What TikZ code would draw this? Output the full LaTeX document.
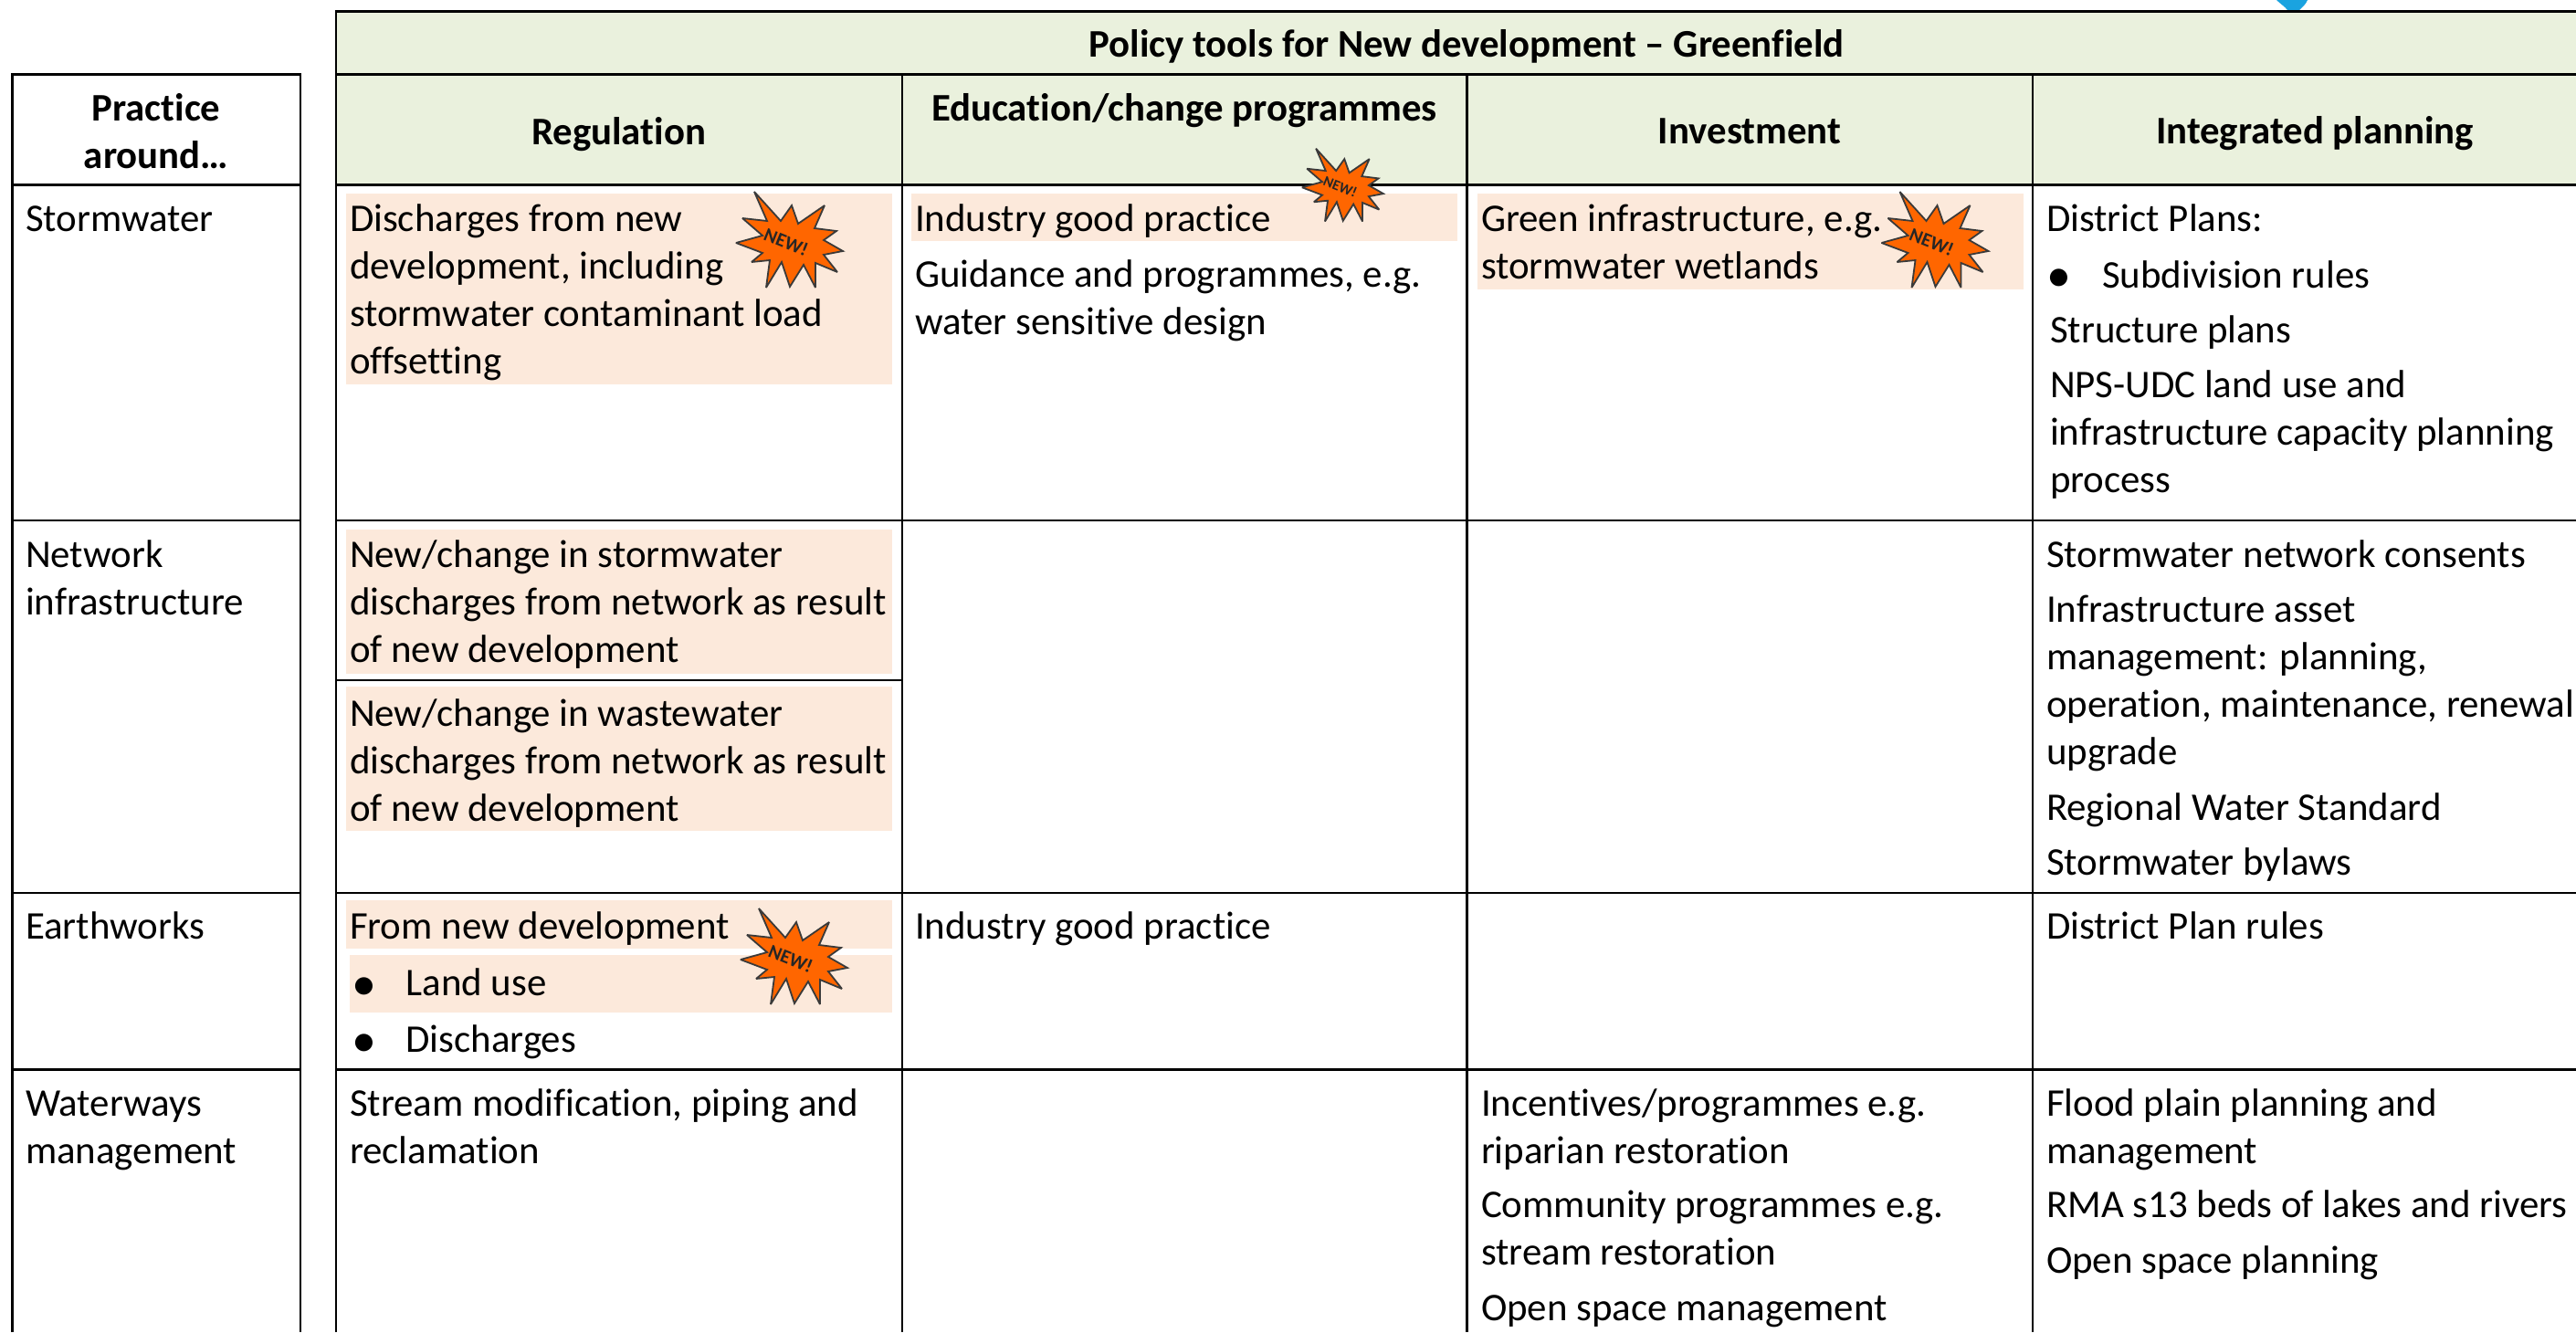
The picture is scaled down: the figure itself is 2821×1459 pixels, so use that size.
\documentclass[tikz,border=0pt]{standalone}
\usepackage{fontspec}
\setmainfont[Ligatures=NoCommon]{Carlito}
\definecolor{headfill}{HTML}{EAF1DD}
\definecolor{newfill}{HTML}{FCE9DB}
\definecolor{burstfill}{HTML}{FF6600}
\definecolor{burstline}{HTML}{3A3A3A}
\definecolor{blobblue}{HTML}{1AA3E0}
\tikzset{
  x=1pt,y=-1pt,
  rule/.style={line width=2.4pt,black},
  txt/.style={anchor=north west,inner sep=0pt,outer sep=0pt,align=left,yshift=36.4pt,
    font=\fontsize{42.9}{52}\selectfont,text=black},
  headtxt/.style={anchor=base,inner sep=0pt,outer sep=0pt,align=center,
    font=\fontsize{42.8}{52}\selectfont\bfseries,text=black},
  bull/.style={anchor=base,inner sep=0pt,outer sep=0pt,font=\fontsize{54}{52}\selectfont,text=black},
  burstshape/.style={fill=burstfill,draw=burstline,line width=1.8pt,line join=miter,miter limit=3},
  burstlab/.style={inner sep=0pt,transform shape,rotate=-22,font=\fontsize{21}{21}\selectfont\bfseries,text=black!85},
  pics/newburst/.style={code={
    \draw[burstshape] (-38,-53)--(-9,-21)--(3,-38)--(10,-18)--(39,-38)--(28,-13)--(52,-10)--(38,0)--(59,12)--(38,16)--(53,35)--(29,25)--(29,52)--(16,27)--(1,51)--(-8,24)--(-25,52)--(-21,22)--(-41,24)--(-29,14)--(-58,3)--(-29,-5)--(-51,-24)--(-24,-21)--cycle;
    \node[burstlab] (-lab) at (-3,2) {NEW!};
  }}
}
\begin{document}
\begin{tikzpicture}
\clip (0,0) rectangle (2821,1459);
\fill[white] (0,0) rectangle (2821,1459);
% blue fragment at the top edge
\fill[blobblue] (2493,0) -- (2527,0) .. controls (2525,5) and (2521,8) .. (2518,11) -- (2505,11) .. controls (2502,7) and (2497,4) .. (2493,0) -- cycle;
% header fills
\fill[headfill] (368,12.5) rectangle (2821,202.5);
% highlighted passages
\fill[newfill] (379,212) rectangle (977,421);
\fill[newfill] (379,580) rectangle (977,738);
\fill[newfill] (379,752) rectangle (977,910);
\fill[newfill] (379,986) rectangle (977,1039);
\fill[newfill] (383,1046) rectangle (977,1109);
\fill[newfill] (998,212) rectangle (1596,264);
\fill[newfill] (1618,212) rectangle (2216,317);
% left table
\draw[rule] (13.5,1459) -- (13.5,81.5) -- (329,81.5) -- (329,1459);
\draw[rule] (13.5,202.5) -- (329,202.5);
\draw[rule] (13.5,570) -- (329,570);
\draw[rule] (13.5,978) -- (329,978);
\draw[rule] (13.5,1171.5) -- (329,1171.5);
% main table
\draw[rule] (368,1459) -- (368,12.5) -- (2821,12.5);
\draw[rule] (368,81.5) -- (2821,81.5);
\draw[rule] (368,202.5) -- (2821,202.5);
\draw[rule] (368,570) -- (2821,570);
\draw[rule] (368,745) -- (988,745);
\draw[rule] (368,978) -- (2821,978);
\draw[rule] (368,1171.5) -- (2821,1171.5);
\draw[rule] (988,81.5) -- (988,1459);
\draw[rule] (1606.5,81.5) -- (1606.5,1459);
\draw[rule] (2226,81.5) -- (2226,1459);
% headers
\node[headtxt] (hpractice) at (171,132.5) {Practice};
\node[headtxt] (hpractice2) at (171,184) {around…};
\node[headtxt] (htitle) at (1606,62.5) {Policy tools for New development – Greenfield};
\node[headtxt] (hreg) at (677.5,158.5) {Regulation};
\node[headtxt] (hedu) at (1297,132) {Education/change programmes};
\node[headtxt] (hinv) at (1916,157.5) {Investment};
\node[headtxt] (hplan) at (2535,157.5) {Integrated planning};
% first column
\node[txt] (p1) at (28,253) {\strut Stormwater};
\node[txt] (p2) at (28,621) {\strut Network\\infrastructure};
\node[txt] (p3) at (28,1028.5) {\strut Earthworks};
\node[txt] (p4) at (28,1222) {\strut Waterways\\management};
% regulation
\node[txt] (r1) at (383,253) {\strut Discharges from new\\development, including\\stormwater contaminant load\\offsetting};
\node[txt] (r2) at (383,621) {\strut New/change in stormwater\\discharges from network as result\\of new development};
\node[txt] (r3) at (383,795) {\strut New/change in wastewater\\discharges from network as result\\of new development};
\node[txt] (r4) at (383,1028.5) {\strut From new development};
\node[bull] (r5b) at (398.5,1095) {•};
\node[txt] (r5) at (444.5,1090) {\strut Land use};
\node[bull] (r6b) at (398.5,1157) {•};
\node[txt] (r6) at (444.5,1152) {\strut Discharges};
\node[txt] (r7) at (383,1222) {\strut Stream modification, piping and\\reclamation};
% education
\node[txt] (e1) at (1002,253) {\strut Industry good practice};
\node[txt] (e2) at (1002,314) {\strut Guidance and programmes, e.g.\\water sensitive design};
\node[txt] (e3) at (1002,1028.5) {\strut Industry good practice};
% investment
\node[txt] (i1) at (1622,253) {\strut Green infrastructure, e.g.\\stormwater wetlands};
\node[txt] (i2) at (1622,1222) {\strut Incentives/programmes e.g.\\riparian restoration};
\node[txt] (i3) at (1622,1333.5) {\strut Community programmes e.g.\\stream restoration};
\node[txt] (i4) at (1622,1446) {\strut Open space management};
% integrated planning
\node[txt] (g1) at (2241,253) {\strut District Plans:};
\node[bull] (g2b) at (2255,319) {•};
\node[txt] (g2) at (2302,315) {\strut Subdivision rules};
\node[txt] (g3) at (2245,375) {\strut Structure plans};
\node[txt] (g4) at (2245,435.5) {\strut NPS-UDC land use and\\infrastructure capacity planning\\process};
\node[txt] (g5) at (2241,621) {\strut Stormwater network consents};
\node[txt] (g6) at (2241,681) {\strut Infrastructure asset\\management: planning,\\operation, maintenance, renewal,\\upgrade};
\node[txt] (g7) at (2241,898) {\strut Regional Water Standard};
\node[txt] (g8) at (2241,958) {\strut Stormwater bylaws};
\node[txt] (g9) at (2241,1028.5) {\strut District Plan rules};
\node[txt] (g10) at (2241,1222) {\strut Flood plain planning and\\management};
\node[txt] (g11) at (2241,1333.5) {\strut RMA s13 beds of lakes and rivers};
\node[txt] (g12) at (2241,1394) {\strut Open space planning};
% bursts
\pic (b1) at (864,263) {newburst};
\pic (b2) at (869,1048) {newburst};
\pic (b3) at (2118.5,263) {newburst};
\pic[scale=.76] (b4) at (1470,203) {newburst};
\end{tikzpicture}
\end{document}
